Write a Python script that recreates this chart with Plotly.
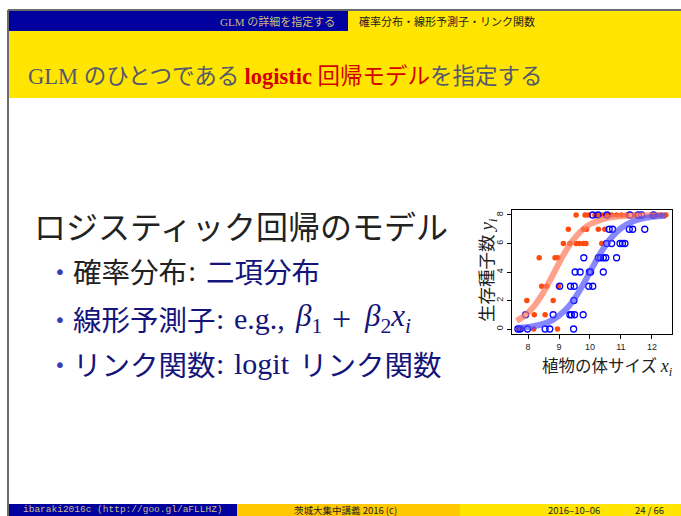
import plotly.graph_objects as go

W, H = 681, 516

# Seed counts (out of 8) against plant body size: fertilized (T) and control (C)
t_size = [7.70, 7.80, 8.18, 8.95,
          8.20, 8.55,
          7.96, 8.81,
          8.44, 8.60, 8.98,
          8.36, 8.87, 8.96,
          9.14, 9.35, 9.55, 9.66, 9.78, 9.87, 10.38,
          9.30, 9.79, 9.89, 10.27, 10.48,
          9.55, 9.84, 9.95, 10.16, 10.27, 10.41, 10.54, 10.70, 10.86, 11.02,
          11.18, 11.45, 12.00, 12.15, 12.30, 12.45]
t_seeds = [0, 0, 0, 0,
           1, 1,
           2, 2,
           3, 3, 3,
           5, 5, 5,
           6, 6, 6, 6, 6, 6, 6,
           7, 7, 7, 7, 7,
           8, 8, 8, 8, 8, 8, 8, 8, 8, 8,
           8, 8, 8, 8, 8, 8]

c_size = [7.67, 7.74, 7.98, 8.55, 8.70, 9.47,
          7.92, 8.81, 9.35, 9.40, 9.50, 9.78,
          9.48,
          9.02, 9.37, 9.49, 9.96, 10.09,
          9.52, 9.68, 9.98, 10.02, 10.43,
          9.80, 10.27, 10.34, 10.43, 10.51, 10.86,
          10.54, 10.70, 10.97, 11.05, 11.13,
          10.62, 10.73, 11.27, 11.38, 11.77,
          10.09, 10.26, 10.55, 11.29, 11.56, 11.67, 12.05]
c_seeds = [0, 0, 0, 0, 0, 0,
           1, 1, 1, 1, 1, 1,
           2,
           3, 3, 3, 3, 3,
           4, 4, 4, 4, 4,
           5, 5, 5, 5, 5, 5,
           6, 6, 6, 6, 6,
           7, 7, 7, 7, 7,
           8, 8, 8, 8, 8, 8, 8]

# Fitted logistic-model predictions (expected seeds) at sampled sizes
t_curve_x = [7.63, 7.9, 8.2, 8.5, 8.8, 9.1, 9.4, 9.7, 10.0, 10.4, 10.8, 11.3, 11.8, 12.45]
t_curve_y = [0.57, 0.96, 1.63, 2.59, 3.79, 5.03, 6.08, 6.85, 7.35, 7.70, 7.87, 7.95, 7.98, 7.99]
c_curve_x = [7.63, 8.0, 8.4, 8.8, 9.2, 9.5, 9.8, 10.1, 10.4, 10.7, 11.0, 11.4, 11.9, 12.45]
c_curve_y = [0.07, 0.14, 0.30, 0.64, 1.32, 2.13, 3.20, 4.40, 5.54, 6.44, 7.07, 7.56, 7.83, 7.94]

x_ticks = [8, 9, 10, 11, 12]
y_ticks = [0, 2, 4, 6, 8]

BLUE = "#00009f"
YELLOW = "#ffe500"
GOLD = "#ffc800"
NAVY = "#14147a"
INK = "#222222"
SLATE = "#55596b"
TAN = "#cdbb82"
JP = "Noto Sans CJK JP"
SERIF = "Liberation Serif"


def px(x):
    return x / W


def py(y):
    return 1 - y / H


fig = go.Figure()

fig.add_trace(go.Scatter(x=t_size, y=t_seeds, mode="markers",
                         marker=dict(size=5.5, color="#ff4a10"), hoverinfo="skip"))
fig.add_trace(go.Scatter(x=c_size, y=c_seeds, mode="markers",
                         marker=dict(size=6, symbol="circle-open", color="#0000ff",
                                     line=dict(width=1.3, color="#0000ff")),
                         hoverinfo="skip"))
fig.add_trace(go.Scatter(x=t_curve_x, y=t_curve_y, mode="lines", line_shape="spline",
                         line=dict(color="#ff7a5a", width=6), opacity=0.7,
                         hoverinfo="skip"))
fig.add_trace(go.Scatter(x=c_curve_x, y=c_curve_y, mode="lines", line_shape="spline",
                         line=dict(color="#4848ff", width=6), opacity=0.65,
                         hoverinfo="skip"))

shapes = []


def rect(x0, y0, x1, y1, color):
    shapes.append(dict(type="rect", xref="paper", yref="paper",
                       x0=px(x0), x1=px(x1), y0=py(y1), y1=py(y0),
                       fillcolor=color, line=dict(width=0), layer="below"))


def hline(x0, x1, y, color, w):
    shapes.append(dict(type="line", xref="paper", yref="paper",
                       x0=px(x0), x1=px(x1), y0=py(y), y1=py(y),
                       line=dict(color=color, width=w)))


def vline(x, y0, y1, color, w):
    shapes.append(dict(type="line", xref="paper", yref="paper",
                       x0=px(x), x1=px(x), y0=py(y0), y1=py(y1),
                       line=dict(color=color, width=w)))


# header strip, title band and footer
rect(8, 11, 348, 31, BLUE)
rect(348, 11, 681, 31, YELLOW)
rect(8, 31, 681, 98, YELLOW)
rect(8, 504, 237, 516, BLUE)
rect(237, 504, 460, 516, GOLD)
rect(460, 504, 681, 516, YELLOW)
hline(8, 681, 10, "#6b6b6b", 2)
vline(8, 10, 516, "#6b6b6b", 2)

ann = []


def text(x, y, s, size, color, family=JP, xanchor="left", angle=0, pad=1):
    ann.append(dict(xref="paper", yref="paper", x=px(x), y=py(y), text=s,
                    showarrow=False, xanchor=xanchor, yanchor="middle",
                    textangle=angle, borderpad=pad,
                    font=dict(size=size, color=color, family=family)))


def sp(s, family=None, color=None, extra=""):
    st = []
    if family:
        st.append("font-family:'%s'" % family)
    if color:
        st.append("color:%s" % color)
    if extra:
        st.append(extra)
    return '<span style="%s">%s</span>' % (";".join(st), s)


# header strip
text(337, 21, sp("GLM ", SERIF) + "の詳細を指定する", 11, TAN, xanchor="right")
text(357, 21, "確率分布・線形予測子・リンク関数", 11, INK)

# frame title
title = (sp("GLM ", SERIF) + "のひとつである " +
         sp("<b>logistic</b> ", SERIF, "#d40000") +
         sp("回帰モデル", None, "#d40000") + "を指定する")
text(26, 74, title, 22.5, SLATE)

# body
BODY = 28.5
MATH = 30
text(32, 225, "ロジスティック回帰のモデル", 32, INK)
for yb in (270, 318, 363):
    text(52, yb + 2, "•", 20, "#3b3bb5", family="DejaVu Sans")

# bullet 1
text(71, 270, "確率分布", BODY, INK)
text(186, 270, ":", MATH, INK, family=SERIF)
text(204, 270, "二項分布", BODY, NAVY)

# bullet 2
text(71, 318, "線形予測子", BODY, NAVY)
text(214, 318, ":", MATH, NAVY, family=SERIF)
text(232, 318, "e.g.,", MATH, NAVY, family=SERIF)
text(293, 318, "<i>β</i><sub>1</sub>", MATH + 1, NAVY, family=SERIF)
text(330, 318, "+", MATH + 4, NAVY, family=SERIF)
text(362, 318, "<i>β</i><sub>2</sub><i>x</i><sub><i>i</i></sub>", MATH + 1, NAVY, family=SERIF)

# bullet 3
text(71, 363, "リンク関数", BODY, NAVY)
text(214, 363, ":", MATH, NAVY, family=SERIF)
text(232, 363, "logit", MATH, NAVY, family=SERIF)
text(297, 363, "リンク関数", BODY, NAVY)

# inset axis titles
text(607, 366, "植物の体サイズ " + sp("<i>x</i><sub><i>i</i></sub>", SERIF, None, "font-size:18px"),
     16.5, INK, xanchor="center")
text(486, 270, "生存種子数 " + sp("<i>y</i><sub><i>i</i></sub>", SERIF, None, "font-size:19px"),
     17.5, INK, xanchor="center", angle=-90)

# footer
text(22, 509.5, "ibaraki2016c (http://goo.gl/aFLLHZ)", 9.5, TAN, family="Liberation Mono", pad=0)
text(346, 509.5, "茨城大集中講義 2016 (c)", 9.5, INK, xanchor="center", pad=0)
text(601, 509.5, "2016–10–06", 9.5, INK, xanchor="right", pad=0)
text(665, 509.5, "24 / 66", 9.5, INK, xanchor="right", pad=0)

fig.update_layout(
    width=W, height=H,
    margin=dict(l=0, r=0, t=0, b=0),
    paper_bgcolor="white", plot_bgcolor="white",
    showlegend=False,
    shapes=shapes, annotations=ann,
    xaxis=dict(domain=[px(512), px(672)], range=[7.48, 12.65],
               tickvals=x_ticks, ticks="outside", ticklen=4, tickcolor="black",
               showline=True, mirror=True, linecolor="black", linewidth=1,
               showgrid=False, zeroline=False,
               tickfont=dict(size=9, family="Liberation Sans", color=INK)),
    yaxis=dict(domain=[py(334), py(210)], range=[-0.35, 8.35],
               tickvals=y_ticks, ticks="outside", ticklen=4, tickcolor="black",
               tickangle=-90,
               showline=True, mirror=True, linecolor="black", linewidth=1,
               showgrid=False, zeroline=False,
               tickfont=dict(size=9, family="Liberation Sans", color=INK)),
)

fig.write_html("out.html")
